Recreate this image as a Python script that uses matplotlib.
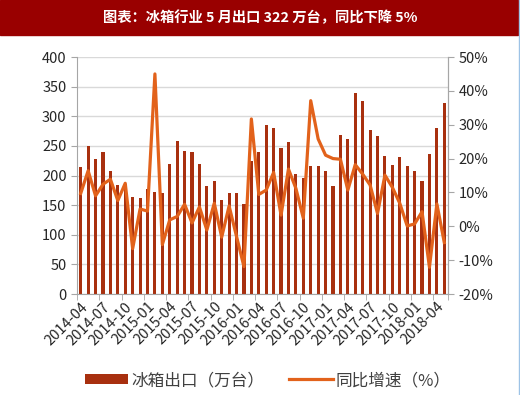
import matplotlib
matplotlib.use('Agg')
import matplotlib.pyplot as plt
from matplotlib.ticker import PercentFormatter, FixedLocator, NullFormatter

plt.rcParams['font.family'] = ['Noto Sans CJK SC', 'DejaVu Sans']
plt.rcParams['axes.unicode_minus'] = False

# monthly data 2014-04 .. 2018-05
months = []
for y in range(2014, 2019):
    for m in range(1, 13):
        if (y == 2014 and m < 4) or (y == 2018 and m > 5):
            continue
        months.append('%d-%02d' % (y, m))

exports = [215, 250, 228, 239, 208, 184, 186, 163, 162, 178,
           172, 170, 219, 259, 242, 239, 220, 183, 191, 158,
           171, 170, 152, 224, 239, 286, 280, 246, 257, 202,
           195, 216, 216, 207, 183, 269, 262, 339, 325, 276,
           267, 233, 217, 231, 216, 208, 190, 236, 280, 322]

yoy = [9.7, 16.4, 9.0, 12.4, 13.9, 7.6, 12.7, -6.6, 5.1, 4.5,
       45.0, -5.4, 1.9, 2.9, 6.5, 1.0, 5.7, -1.1, 6.8, -3.2,
       6.0, -3.0, -11.9, 31.7, 9.4, 10.7, 15.9, 3.3, 16.9, 11.2,
       2.4, 37.1, 25.8, 21.0, 20.0, 19.8, 10.7, 18.2, 15.4, 12.2,
       3.8, 15.1, 11.5, 6.8, 0.1, 0.7, 4.3, -12.1, 6.6, -4.8]

bar_color = '#A8300F'
line_color = '#E2621B'
grid_color = '#D9D9D9'
text_color = '#262626'

fig = plt.figure(figsize=(5.2, 3.95), dpi=100)

# title bar
fig.patches.append(plt.Rectangle((0, 1 - 35 / 395), 518 / 520, 35 / 395,
                                 transform=fig.transFigure, color='#990000', zorder=0))
fig.text(0.5, 1 - 17.5 / 395, '图表：冰箱行业 5 月出口 322 万台，同比下降 5%',
         color='white', fontsize=10.3, fontweight='bold', ha='center', va='center')
fig.lines.append(plt.Line2D([519 / 520, 519 / 520], [0, 1], transform=fig.transFigure,
                            color='#9DC3E6', lw=1))

ax = fig.add_axes([77 / 520, 101 / 395, 371 / 520, 237 / 395])
x = list(range(len(months)))
ax.bar(x, exports, width=0.42, color=bar_color, zorder=2, label='冰箱出口（万台）')
ax.set_ylim(0, 400)
ax.set_yticks(range(0, 401, 50))
ax.set_xlim(-0.5, len(months) - 0.5)
ax.yaxis.grid(True, color=grid_color, lw=1, zorder=0)
ax.set_axisbelow(True)

lab_idx = list(range(0, len(months), 3))
ax.set_xticks(lab_idx)
ax.set_xticklabels([months[i] for i in lab_idx], rotation=45, ha='right',
                   rotation_mode='anchor', fontsize=10.5, color=text_color)
ax.tick_params(axis='x', length=0, pad=4)
ax.xaxis.set_minor_locator(FixedLocator([i - 0.5 for i in range(0, len(months) + 1, 3)]
                                        + [len(months) - 0.5]))
ax.xaxis.set_minor_formatter(NullFormatter())
ax.tick_params(axis='x', which='minor', length=4, color='#A6A6A6')
ax.tick_params(axis='y', length=4, color='#A6A6A6', labelsize=10.5, labelcolor=text_color)

ax.spines['top'].set_visible(False)
for s in ['left', 'bottom', 'right']:
    ax.spines[s].set_color('#A6A6A6')

ax2 = ax.twinx()
ax2.plot(x, [v / 100 for v in yoy], color=line_color, lw=2.3, zorder=3, label='同比增速（%）')
ax2.set_ylim(-0.2, 0.5)
ax2.set_yticks([i / 10 for i in range(-2, 6)])
ax2.yaxis.set_major_formatter(PercentFormatter(1.0, decimals=0))
ax2.tick_params(axis='y', length=4, color='#A6A6A6', labelsize=10.5, labelcolor=text_color)
ax2.spines['top'].set_visible(False)
ax2.spines['right'].set_color('#A6A6A6')
ax2.spines['left'].set_visible(False)
ax2.spines['bottom'].set_visible(False)

h1, l1 = ax.get_legend_handles_labels()
h2, l2 = ax2.get_legend_handles_labels()
fig.legend(h1 + h2, l1 + l2, loc='center', bbox_to_anchor=(0.515, 14.5 / 395), ncol=2,
           frameon=False, fontsize=12, handlelength=2.6, handleheight=0.6,
           handletextpad=0.2, columnspacing=1.5, labelcolor='#404040')

fig.savefig('out.png', dpi=100)
